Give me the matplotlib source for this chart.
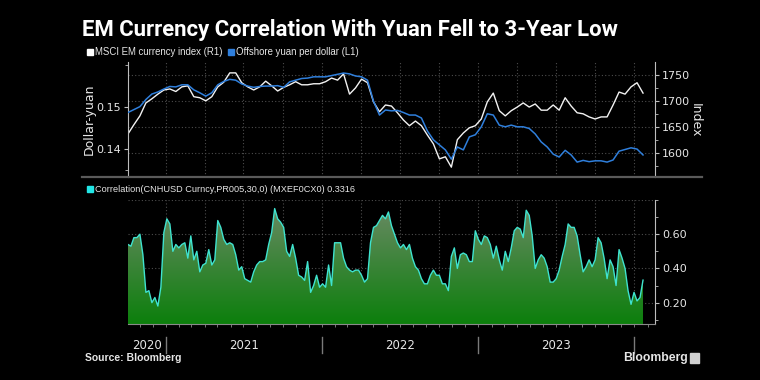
import matplotlib
matplotlib.use('Agg')
import matplotlib.pyplot as plt
import matplotlib.dates as mdates
import matplotlib.transforms as mtransforms
from matplotlib.patches import Rectangle
from matplotlib.lines import Line2D
import numpy as np
import pandas as pd

# ---- data ----
line_dates = pd.date_range('2020-10-04', periods=87, freq='14D')

# offshore yuan per dollar (left axis)
yuan = [0.1488, 0.1495, 0.1502, 0.1519, 0.1532, 0.1537, 0.1544, 0.1550, 0.1549, 0.1554,
        0.1554, 0.1542, 0.1535, 0.1527, 0.1535, 0.1554, 0.1562, 0.1567, 0.1565, 0.1556,
        0.1551, 0.1548, 0.1550, 0.1551, 0.1551, 0.1552, 0.1548, 0.1561, 0.1565, 0.1569,
        0.1570, 0.1573, 0.1573, 0.1573, 0.1576, 0.1579, 0.1582, 0.1580, 0.1575, 0.1573,
        0.1565, 0.1515, 0.1482, 0.1494, 0.1492, 0.1493, 0.1488, 0.1482, 0.1482, 0.1475,
        0.1444, 0.1423, 0.1411, 0.1399, 0.1377, 0.1406, 0.1399, 0.1430, 0.1435, 0.1454,
        0.1485, 0.1482, 0.1458, 0.1454, 0.1458, 0.1454, 0.1454, 0.1450, 0.1437, 0.1418,
        0.1406, 0.1389, 0.1382, 0.1398, 0.1387, 0.1370, 0.1374, 0.1371, 0.1373, 0.1373,
        0.1370, 0.1375, 0.1396, 0.1400, 0.1404, 0.1401, 0.1387]

# MSCI EM currency index (right axis)
msci = [1636, 1654, 1671, 1696, 1704, 1713, 1721, 1723, 1718, 1727,
        1729, 1708, 1706, 1700, 1708, 1727, 1736, 1754, 1754, 1735,
        1727, 1721, 1727, 1738, 1729, 1719, 1726, 1731, 1737, 1731,
        1731, 1733, 1733, 1737, 1744, 1740, 1752, 1713, 1725, 1742,
        1735, 1698, 1679, 1692, 1690, 1677, 1663, 1652, 1661, 1652,
        1634, 1617, 1588, 1592, 1572, 1625, 1638, 1648, 1652, 1665,
        1698, 1715, 1681, 1671, 1681, 1688, 1696, 1688, 1694, 1682,
        1682, 1692, 1682, 1706, 1690, 1677, 1675, 1669, 1665, 1669,
        1669, 1692, 1717, 1713, 1727, 1735, 1715]

corr_dates = pd.date_range('2020-10-04', periods=173, freq='7D')
corr = [0.54, 0.53, 0.58, 0.58, 0.60, 0.48, 0.26, 0.27, 0.20, 0.23,
        0.18, 0.29, 0.61, 0.69, 0.66, 0.50, 0.54, 0.52, 0.54, 0.55,
        0.46, 0.59, 0.45, 0.50, 0.38, 0.42, 0.43, 0.51, 0.42, 0.45,
        0.68, 0.64, 0.57, 0.54, 0.55, 0.54, 0.48, 0.39, 0.41, 0.34,
        0.33, 0.32, 0.38, 0.42, 0.44, 0.44, 0.45, 0.54, 0.61, 0.75,
        0.69, 0.67, 0.64, 0.50, 0.47, 0.54, 0.46, 0.36, 0.35, 0.33,
        0.44, 0.26, 0.30, 0.36, 0.29, 0.31, 0.29, 0.42, 0.30, 0.55,
        0.55, 0.55, 0.46, 0.41, 0.39, 0.38, 0.39, 0.39, 0.36, 0.32,
        0.34, 0.55, 0.64, 0.65, 0.68, 0.71, 0.69, 0.73, 0.65, 0.60,
        0.55, 0.52, 0.54, 0.51, 0.54, 0.46, 0.41, 0.39, 0.34, 0.31,
        0.31, 0.36, 0.39, 0.36, 0.36, 0.31, 0.31, 0.27, 0.47, 0.52,
        0.40, 0.48, 0.49, 0.48, 0.44, 0.44, 0.62, 0.57, 0.54, 0.59,
        0.58, 0.54, 0.46, 0.53, 0.45, 0.39, 0.50, 0.44, 0.52, 0.62,
        0.64, 0.63, 0.58, 0.74, 0.71, 0.59, 0.40, 0.45, 0.48, 0.46,
        0.41, 0.32, 0.32, 0.34, 0.39, 0.47, 0.54, 0.66, 0.64, 0.64,
        0.59, 0.48, 0.38, 0.41, 0.45, 0.41, 0.45, 0.58, 0.55, 0.46,
        0.34, 0.45, 0.41, 0.30, 0.51, 0.46, 0.40, 0.27, 0.19, 0.26,
        0.21, 0.23, 0.3316]

years = ['2020', '2021', '2022', '2023']

# ---- styling ----
BG = 'black'
TXT = '#e6e6e6'
GRID = '#4d4d4d'
SPINE = '#bdbdbd'
BLUE = '#2f7fdc'
WHITE = '#f2f2f2'
CYAN = '#3fe3cf'
SANS = ['Liberation Sans', 'DejaVu Sans']

plt.rcParams['font.family'] = ['DejaVu Sans']

W, H = 760, 380
fig = plt.figure(figsize=(W / 100, H / 100), dpi=100, facecolor=BG)

def fx(px):
    return px / W

def fy(py):
    return 1 - py / H

x0 = pd.Timestamp('2020-10-03')
x1 = pd.Timestamp('2024-02-18')
quarters = pd.date_range('2021-01-01', '2024-01-01', freq='QS')

# ---- top panel ----
axr = fig.add_axes([fx(127.5), fy(177), fx(655) - fx(127.5), fy(62) - fy(177)])
ax1 = axr.twinx()
axr.set_facecolor(BG)
ax1.patch.set_visible(False)

# right axis (index) lives in axr
axr.yaxis.tick_right()
axr.set_ylim(1553, 1775)
axr.set_yticks([1600, 1650, 1700, 1750])
axr.set_yticks([1575, 1625, 1675, 1725], minor=True)
for v in [1600, 1650, 1700, 1750]:
    axr.axhline(v, color=GRID, lw=0.8, ls=(0, (1, 2)), zorder=0)
for q in quarters:
    axr.axvline(q, color=GRID, lw=0.8, ls=(0, (1, 2)), zorder=0)
axr.plot(line_dates, msci, color=WHITE, lw=1.0, zorder=2)

# left axis (yuan)
ax1.yaxis.tick_left()
ax1.set_ylim(0.13345, 0.16083)
ax1.set_yticks([0.14, 0.15])
ax1.set_yticks([0.135, 0.16], minor=True)
ax1.yaxis.set_major_formatter(matplotlib.ticker.FormatStrFormatter('%.2f'))
ax1.plot(line_dates, yuan, color=BLUE, lw=1.1, zorder=3)

for a in (axr, ax1):
    a.set_xlim(x0, x1)
    a.xaxis.set_major_locator(matplotlib.ticker.NullLocator())
    a.xaxis.set_minor_locator(matplotlib.ticker.NullLocator())
    for s in ['top', 'bottom']:
        a.spines[s].set_visible(False)
axr.spines['left'].set_visible(False)
axr.spines['right'].set_color(SPINE)
ax1.spines['right'].set_visible(False)
ax1.spines['left'].set_color(SPINE)
for a in (axr, ax1):
    a.tick_params(axis='y', which='major', colors=SPINE, labelcolor=TXT, labelsize=8,
                  length=3, pad=2)
    a.tick_params(axis='y', which='minor', colors=SPINE, length=2)

fig.text(fx(89), fy(119), 'Dollar-yuan', rotation=90, color=TXT, fontsize=9,
         ha='center', va='center')
fig.text(fx(695), fy(120), 'Index', rotation=270, color=TXT, fontsize=9,
         ha='center', va='center')

# separator under the top panel
fig.add_artist(Line2D([fx(82), fx(702)], [fy(177.5), fy(177.5)], color='#5a5a5a', lw=1.6))

# ---- bottom panel ----
ax2 = fig.add_axes([fx(127.5), fy(324), fx(655) - fx(127.5), fy(200) - fy(324)])
ax2.set_facecolor(BG)
for v in [0.2, 0.4, 0.6, 0.8]:
    ax2.axhline(v, color=GRID, lw=0.8, ls=(0, (1, 2)), zorder=0)
for q in quarters:
    ax2.axvline(q, color=GRID, lw=0.8, ls=(0, (1, 2)), zorder=0)

cx = mdates.date2num(corr_dates)
poly = ax2.fill_between(cx, 0.075, corr, facecolor='none', edgecolor='none')
grad = np.linspace(0, 1, 256)[:, None]
c_bot = np.array(matplotlib.colors.to_rgb('#0c7f0c'))
c_top = np.array(matplotlib.colors.to_rgb('#6e8a68'))
img = c_bot + (c_top - c_bot) * grad[..., None]
im = ax2.imshow(img, origin='lower', aspect='auto', zorder=1,
                extent=[cx[0], cx[-1], 0.075, 0.80])
im.set_clip_path(poly.get_paths()[0], transform=ax2.transData)
ax2.plot(corr_dates, corr, color=CYAN, lw=1.0, zorder=2)
ax2.set_xlim(x0, x1)
ax2.set_ylim(0.075, 0.80)

ax2.yaxis.tick_right()
ax2.set_yticks([0.2, 0.4, 0.6])
ax2.set_yticks([0.1, 0.3, 0.5, 0.7, 0.8], minor=True)
ax2.yaxis.set_major_formatter(matplotlib.ticker.FormatStrFormatter('%.2f'))
ax2.tick_params(axis='y', which='major', colors=SPINE, labelcolor=TXT, labelsize=8,
                length=3, pad=2)
ax2.tick_params(axis='y', which='minor', colors=SPINE, length=2)
ax2.xaxis.set_major_locator(matplotlib.ticker.NullLocator())
ax2.xaxis.set_minor_locator(mdates.MonthLocator())
ax2.tick_params(axis='x', which='minor', colors='#8a8a8a', length=2.5)
for s in ['top', 'left']:
    ax2.spines[s].set_visible(False)
ax2.spines['right'].set_color(SPINE)
ax2.spines['bottom'].set_color('#8a8a8a')

# year labels and separators under the bottom panel
trans = mtransforms.blended_transform_factory(ax2.transData, ax2.transAxes)
year_starts = [pd.Timestamp(f'{int(y) + 1}-01-01') for y in years]
label_pos = [x0 + (year_starts[0] - x0) / 2] + \
            [pd.Timestamp(f'{y}-07-02') for y in years[1:]]
for y, pos in zip(years, label_pos):
    ax2.text(pos, -0.17, y, transform=trans, color=TXT, fontsize=8.5,
             ha='center', va='center')
for ys in year_starts:
    ax2.plot([ys, ys], [-0.105, -0.23], transform=trans, color='#7a7a7a',
             lw=1, clip_on=False)

# ---- titles, legends, footer ----
fig.text(fx(82), fy(30), 'EM Currency Correlation With Yuan Fell to 3-Year Low',
         color='white', fontsize=15.9, fontweight='bold', family=['Roboto', 'DejaVu Sans'],
         ha='left', va='center')

def legend_item(xpx, ypx, color, label, size):
    fig.add_artist(Rectangle((fx(xpx), fy(ypx + 3)), fx(6), 6 / H, color=color,
                             transform=fig.transFigure))
    fig.text(fx(xpx + 8), fy(ypx), label, color=TXT, fontsize=size, family=SANS,
             ha='left', va='center')

legend_item(87, 52, 'white', 'MSCI EM currency index (R1)', 6.9)
legend_item(228, 52, BLUE, 'Offshore yuan per dollar (L1)', 6.9)
legend_item(87, 189, '#22e6e6', 'Correlation(CNHUSD Curncy,PR005,30,0) (MXEF0CX0) 0.3316', 6.6)

fig.text(fx(85), fy(358), 'Source: Bloomberg', color=TXT, fontsize=7.5,
         fontweight='bold', family=SANS, ha='left', va='center')
fig.text(fx(623), fy(358), 'Bloomberg', color=TXT, fontsize=8.8,
         fontweight='bold', family=SANS, ha='left', va='center')
fig.add_artist(Rectangle((fx(690), fy(363)), fx(9), 10 / H, color='#d0d0d0',
                         transform=fig.transFigure))

fig.savefig('out.png', dpi=100, facecolor=BG)
